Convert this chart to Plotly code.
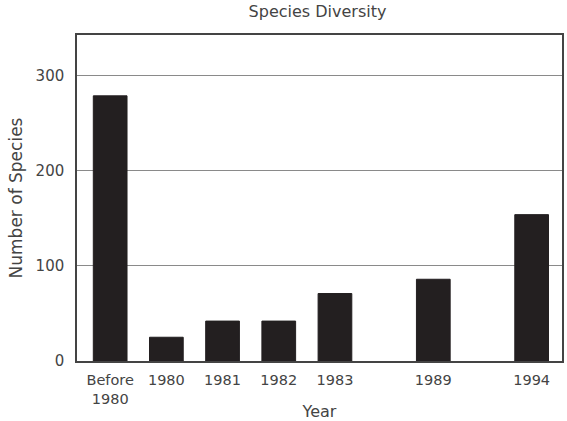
import plotly.graph_objects as go

# values
labels = ["Before<br>1980", "1980", "1981", "1982", "1983", "1989", "1994"]
species = [279, 25, 42, 42, 71, 86, 154]
# the bars are not evenly spaced in the original: later years sit further apart
positions = [0, 1, 2, 3, 4, 5.75, 7.5]
y_ticks = [0, 100, 200, 300]

FONT = "DejaVu Sans"
TEXT = "#444444"

fig = go.Figure()
fig.add_trace(
    go.Bar(
        x=positions,
        y=species,
        width=0.6,
        marker=dict(color="#231f20", line=dict(color="#231f20", width=1)),
        hoverinfo="skip",
    )
)

fig.update_layout(
    width=567,
    height=421,
    margin=dict(l=77, r=5, t=35, b=60),
    paper_bgcolor="white",
    plot_bgcolor="white",
    showlegend=False,
    font=dict(family=FONT, size=15, color=TEXT),
    title=dict(
        text="Species Diversity",
        x=0.56,
        xanchor="center",
        y=0.972,
        yanchor="middle",
        font=dict(family=FONT, size=16, color=TEXT),
    ),
)

fig.update_xaxes(
    range=[-0.59, 8.04],
    tickvals=positions,
    ticktext=labels,
    automargin=False,
    showgrid=False,
    zeroline=False,
    showline=True,
    linecolor="#444444",
    linewidth=1.5,
    mirror=True,
    ticks="",
    ticklabelstandoff=5,
    tickfont=dict(family=FONT, size=14.5, color=TEXT),
    title=dict(text="Year", font=dict(family=FONT, size=16, color=TEXT), standoff=2),
)

fig.update_yaxes(
    range=[0, 343],
    tickvals=y_ticks,
    automargin=False,
    showgrid=True,
    gridcolor="#8a8a8a",
    gridwidth=1,
    zeroline=False,
    showline=True,
    linecolor="#444444",
    linewidth=1.5,
    mirror=True,
    ticks="",
    ticklabelstandoff=8,
    tickfont=dict(family=FONT, size=15, color=TEXT),
    title=dict(
        text="Number of Species",
        font=dict(family=FONT, size=17, color=TEXT),
        standoff=9,
    ),
)

# drop the page's default body margin so the figure sits at the window corner
fig.write_html(
    "out.html",
    config={"displayModeBar": False},
    post_script="document.body.style.margin='0';",
)
